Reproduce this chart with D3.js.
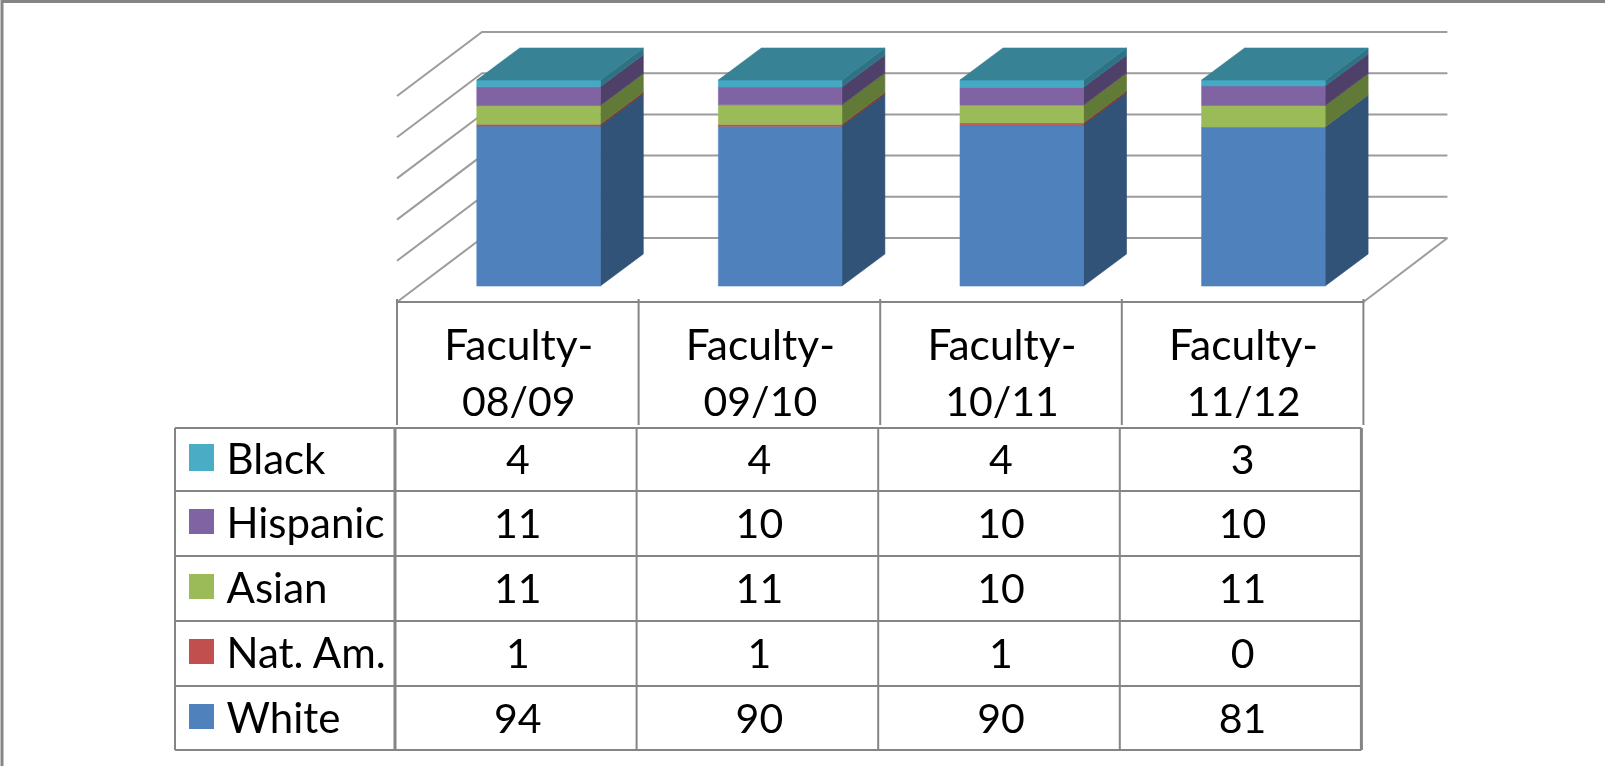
<!DOCTYPE html>
<html><head><meta charset="utf-8">
<script src="https://cdn.jsdelivr.net/npm/d3@7/dist/d3.min.js"></script>
<style>html,body{margin:0;padding:0;background:#fff;overflow:hidden}svg{display:block}</style>
</head><body><svg id="c" width="1605" height="766"></svg>
<script>
const categories = ["Faculty-08/09","Faculty-09/10","Faculty-10/11","Faculty-11/12"];
const seriesNames = ["White","Nat. Am.","Asian","Hispanic","Black"];
const white = [94,90,90,81];
const natAm = [1,1,1,0];
const asian = [11,11,10,11];
const hispanic = [11,10,10,10];
const black = [4,4,4,3];
const frontColors = ["#4f81bd","#c0504d","#9bbb59","#8064a2","#45a9c5"];
const sideColors = ["#315278","#7e3230","#627a38","#503f69","#2f7385"];
const topColor = "#378296";
const yTicks = [0,0.2,0.4,0.6,0.8,1];
const swatchColors = ["#4bacc6","#8064a2","#9bbb59","#c0504d","#4f81bd"];

const valuesBySeries = [white,natAm,asian,hispanic,black];
const rowsData = categories.map((c,i)=>{const o={cat:c};seriesNames.forEach((s,k)=>o[s]=valuesBySeries[k][i]);return o;});
const stacked = d3.stack().keys(seriesNames).offset(d3.stackOffsetExpand)(rowsData);

const svg = d3.select("#c");
svg.append("defs").append("filter").attr("id","soft")
  .attr("filterUnits","userSpaceOnUse").attr("x",0).attr("y",0).attr("width",1605).attr("height",766)
  .append("feGaussianBlur").attr("stdDeviation",0.55);
const root = svg.append("g").attr("filter","url(#soft)");
const FONT = "Lato, 'Open Sans', sans-serif";
const GRID = "#9c9c9c", LINE = "#858585";

const tableLeft = 397, colW = 241.6;
const xCol = d3.scaleBand().domain(categories).range([tableLeft, tableLeft+4*colW]);
const barW = 123.5;
const barX = c => xCol(c) + xCol.bandwidth()/2 - 41;
const y = d3.scaleLinear().domain([0,1]).range([286,80]);
const dx = 43, dy = -32;           // bar depth
const wallDy = -48, floorDy = 16;  // offset of back wall / front edge from bar plane
const wallDx = 85;
const xL = tableLeft, xR = tableLeft+4*colW;

// frame
root.append("path").attr("d","M2,770V1.5H1610").attr("fill","none").attr("stroke",LINE).attr("stroke-width",3);

// gridlines
const grid = root.append("g").attr("fill","none").attr("stroke",GRID).attr("stroke-width",2);
yTicks.forEach(t=>{
  grid.append("polyline").attr("points",[
    [xL, y(t)+floorDy],[xL+wallDx, y(t)+wallDy],[xR+wallDx-1, y(t)+wallDy]].join(" "));
});
grid.append("line").attr("x1",xR).attr("y1",y(0)+floorDy).attr("x2",xR+wallDx-1).attr("y2",y(0)+wallDy);

// bars
const bars = root.append("g");
const poly = (pts,fill)=>bars.append("polygon").attr("points",pts.join(" ")).attr("fill",fill).attr("stroke",fill).attr("stroke-width",0.6);
categories.forEach((c,i)=>{
  const x0 = barX(c), x1 = x0+barW;
  stacked.forEach((s,k)=>{
    const [v0,v1] = s[i];
    if(v1-v0<=0) return;
    poly([[x1,y(v0)],[x1+dx,y(v0)+dy],[x1+dx,y(v1)+dy],[x1,y(v1)]], sideColors[k]);
    poly([[x0,y(v0)],[x1,y(v0)],[x1,y(v1)],[x0,y(v1)]], frontColors[k]);
  });
  poly([[x0,y(1)],[x1,y(1)],[x1+dx,y(1)+dy],[x0+dx,y(1)+dy]], topColor);
});

// data table
const tbl = root.append("g").attr("stroke",LINE).attr("stroke-width",2).attr("fill","none");
const headTop = 302, headBottom = 425;
tbl.append("line").attr("x1",xL).attr("x2",xR).attr("y1",headTop).attr("y2",headTop);
d3.range(5).forEach(i=>{
  const x = xL+i*colW;
  tbl.append("line").attr("x1",x).attr("x2",x).attr("y1",headTop-3).attr("y2",headBottom);
});
const rowYs = [428,491,556,621,686,750];
const bodyLeft = 175, bodyFirst = 395, bodyW = 241.6;
rowYs.forEach(v=>tbl.append("line").attr("x1",bodyLeft).attr("x2",bodyFirst+4*bodyW).attr("y1",v).attr("y2",v));
[bodyLeft].concat(d3.range(5).map(i=>bodyFirst+i*bodyW)).forEach((x,i)=>{
  tbl.append("line").attr("x1",x).attr("x2",x).attr("y1",rowYs[0]).attr("y2",rowYs[5]).attr("stroke-width",i===5||i===1?3:2);
});

// header text
const txt = root.append("g").attr("font-family",FONT).attr("font-size",41).attr("fill","#000");
categories.forEach((c,i)=>{
  const cx = xL+(i+.5)*colW+1;
  const [a,b] = c.split("-");
  txt.append("text").attr("x",cx).attr("y",360).attr("text-anchor","middle").attr("font-size",42.5).text(a+"-");
  txt.append("text").attr("x",cx).attr("y",416).attr("text-anchor","middle").text(b);
});
// table rows (top to bottom = reverse stack order)
const order = [4,3,2,1,0];
order.forEach((k,r)=>{
  const base = rowYs[r]+(r===0?46:47);
  root.append("rect").attr("x",189).attr("y",rowYs[r]+(r===0?16:18)).attr("width",25).attr("height",r===0?27:25).attr("fill",swatchColors[r]);
  txt.append("text").attr("x",226.5).attr("y",base).attr("font-size",42).text(seriesNames[k]);
  valuesBySeries[k].forEach((v,i)=>{
    txt.append("text").attr("x",bodyFirst+(i+.5)*bodyW+2).attr("y",base).attr("text-anchor","middle").text(v);
  });
});
</script></body></html>
